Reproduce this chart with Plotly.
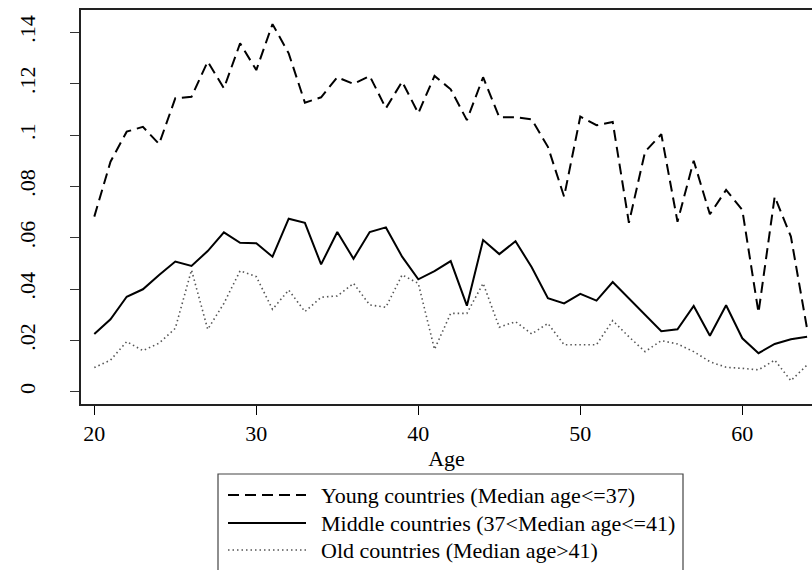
import plotly.graph_objects as go

# Share of population by single year of age, grouped by country median age
ages = list(range(20, 65))

young = [0.0682, 0.0896, 0.1013, 0.1032, 0.0965, 0.1143, 0.1149, 0.1286, 0.1182, 0.1357,
         0.1253, 0.1432, 0.1318, 0.1126, 0.1147, 0.1225, 0.1199, 0.1230, 0.1104, 0.1208,
         0.1085, 0.1230, 0.1178, 0.1058, 0.1225, 0.1069, 0.1069, 0.1061, 0.0954, 0.0760,
         0.1072, 0.1038, 0.1051, 0.0658, 0.0935, 0.1003, 0.0662, 0.0900, 0.0691, 0.0786,
         0.0708, 0.0308, 0.0760, 0.0604, 0.0245]

middle = [0.0225, 0.0282, 0.0370, 0.0399, 0.0455, 0.0507, 0.0490, 0.0548, 0.0621, 0.0580,
          0.0578, 0.0526, 0.0674, 0.0658, 0.0496, 0.0622, 0.0518, 0.0622, 0.0640, 0.0526,
          0.0438, 0.0470, 0.0509, 0.0335, 0.0591, 0.0536, 0.0586, 0.0485, 0.0364, 0.0344,
          0.0381, 0.0355, 0.0427, 0.0364, 0.0300, 0.0236, 0.0243, 0.0334, 0.0218, 0.0337,
          0.0208, 0.0150, 0.0186, 0.0204, 0.0214]

old = [0.0094, 0.0123, 0.0195, 0.0160, 0.0189, 0.0247, 0.0474, 0.0243, 0.0344, 0.0471,
       0.0448, 0.0321, 0.0396, 0.0312, 0.0368, 0.0373, 0.0422, 0.0338, 0.0329, 0.0455,
       0.0422, 0.0165, 0.0305, 0.0305, 0.0422, 0.0251, 0.0273, 0.0225, 0.0266, 0.0183,
       0.0183, 0.0183, 0.0277, 0.0214, 0.0156, 0.0199, 0.0186, 0.0156, 0.0117, 0.0095,
       0.0091, 0.0085, 0.0123, 0.0043, 0.0104]

y_ticks = [0, 0.02, 0.04, 0.06, 0.08, 0.10, 0.12, 0.14]
y_tick_text = ["0", ".02", ".04", ".06", ".08", ".1", ".12", ".14"]
x_ticks = [20, 30, 40, 50, 60]

legend_labels = ["Young countries (Median age<=37)",
                 "Middle countries (37<Median age<=41)",
                 "Old countries (Median age>41)"]

FONT = "Liberation Serif, Times New Roman, DejaVu Serif, serif"
FS = 22
W, H = 812, 570
L, R, T, B = 81, 812, 10, 404   # plot area in pixels

styles = [dict(color="black", width=2, dash="11px,6px"),
          dict(color="black", width=2, dash="solid"),
          dict(color="#555555", width=1.6, dash="1.5px,3px")]

fig = go.Figure()
for vals, name, st in zip([young, middle, old], legend_labels, styles):
    fig.add_trace(go.Scatter(x=ages, y=vals, mode="lines", name=name,
                             line=st, showlegend=False))


def px_x(p):
    return (p - L) / (R - L)


def px_y(p):
    return (B - p) / (B - T)


# legend box drawn below the plot
shapes = [dict(type="rect", xref="paper", yref="paper",
               x0=px_x(218), x1=px_x(683), y0=px_y(600), y1=px_y(474),
               line=dict(color="#444444", width=1.2), fillcolor="white", layer="above")]
annotations = []
rows = [495, 523, 550]
for row, name, st in zip(rows, legend_labels, styles):
    shapes.append(dict(type="line", xref="paper", yref="paper",
                       x0=px_x(228), x1=px_x(306), y0=px_y(row), y1=px_y(row),
                       line=st, layer="above"))
    annotations.append(dict(text=name, xref="paper", yref="paper",
                            x=px_x(319), y=px_y(row), xanchor="left", yanchor="middle",
                            showarrow=False, font=dict(family=FONT, size=FS, color="black")))

fig.update_layout(
    width=W, height=H,
    margin=dict(l=L, r=W - R, t=T, b=H - B, pad=0),
    paper_bgcolor="white", plot_bgcolor="white",
    font=dict(family=FONT, size=FS, color="black"),
    shapes=shapes, annotations=annotations,
    showlegend=False,
)

# pixel -> data mapping: age 20 at x=94.3, 16.2 px per year; 0 at y=391.7, 2567 px per unit
x0 = 20 - (94.3 - L) / 16.2
x1 = 20 + (R - 94.3) / 16.2
y0 = -(B - 391.7) / 2567
y1 = (391.7 - T) / 2567

tick_font = dict(family=FONT, size=FS, color="black")

fig.update_xaxes(range=[x0, x1], tickvals=x_ticks, ticks="outside", ticklen=9,
                 tickwidth=1.2, tickcolor="black", showline=True, linecolor="#222222",
                 linewidth=1.8, mirror=True, showgrid=False, zeroline=False,
                 tickfont=tick_font,
                 title=dict(text="Age", standoff=0, font=tick_font))
fig.update_yaxes(range=[y0, y1], tickvals=y_ticks, ticktext=y_tick_text, tickangle=-90,
                 ticks="outside", ticklen=9, tickwidth=1.2, tickcolor="#333333",
                 showline=True, linecolor="#222222", linewidth=1.5, showgrid=False,
                 zeroline=False, tickfont=tick_font, ticklabelstandoff=26)

fig.write_html("out.html")
